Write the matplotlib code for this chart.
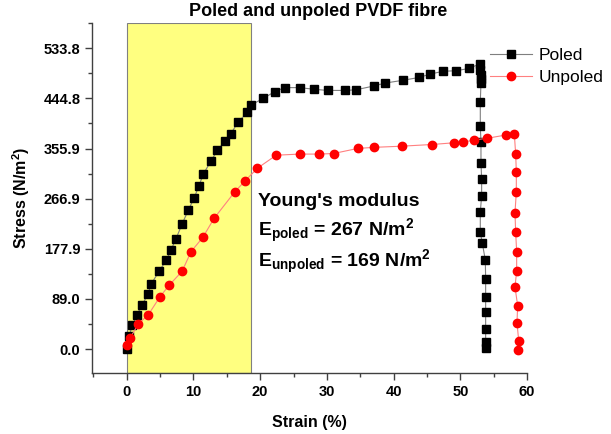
import matplotlib
matplotlib.use("Agg")
import matplotlib.pyplot as plt
from matplotlib.ticker import MultipleLocator, FixedLocator

plt.rcParams['font.family'] = ['Liberation Sans', 'DejaVu Sans']
plt.rcParams['mathtext.fontset'] = 'custom'
plt.rcParams['mathtext.rm'] = 'Liberation Sans:bold'
plt.rcParams['mathtext.bf'] = 'Liberation Sans:bold'
plt.rcParams['mathtext.it'] = 'Liberation Sans:bold'

# Poled data
poled_strain = [0.0, 0.35, 0.85, 1.55, 2.3, 3.2, 3.7, 4.85, 5.95, 6.65, 7.4, 8.3, 9.25,
                10.1, 10.8, 11.5, 12.6, 13.6, 14.7, 15.6, 16.7, 18.1, 18.6, 20.5, 22.2,
                23.7, 25.9, 28.1, 30.1, 32.7, 34.3, 37.1, 38.7, 41.4, 43.8, 45.5, 47.4,
                49.4, 51.3, 52.9, 53.0, 53.1, 53.1, 53.1, 53.0, 53.0, 53.1, 53.1, 53.2,
                53.2, 53.0, 53.0, 53.3, 53.75, 53.8, 53.8, 53.8, 53.8, 53.8, 53.8]
poled_stress = [0.0, 23, 42, 61, 78, 98, 116, 138, 158, 176, 196, 222, 247,
                268, 289, 311, 333, 353, 369, 382, 403, 420, 433, 445, 457,
                464, 464, 461, 459, 459, 460, 467, 472, 477, 482, 488, 493,
                494, 498, 506, 495, 486, 480, 472, 439, 395, 368, 331, 302,
                272, 243, 207, 188, 158, 125, 92, 66, 36, 13, 1]

# Unpoled data
unpoled_strain = [0.0, 0.55, 1.7, 3.25, 5.0, 6.35, 8.3, 9.65, 11.4, 13.1, 16.2, 17.7,
                  19.6, 22.4, 25.9, 28.8, 31.0, 34.6, 37.1, 41.2, 45.7, 49.0, 50.4,
                  52.0, 54.0, 56.9, 58.1, 58.3, 58.4, 58.4, 58.2, 58.3, 58.45, 58.45,
                  58.2, 58.6, 58.5, 58.75, 58.6]
unpoled_stress = [6.5, 20, 44, 61, 93, 113, 138, 173, 198, 232, 279, 298,
                  321, 344, 346, 346, 347, 356, 358, 360, 363, 366, 367,
                  371, 374, 380, 382, 346, 315, 279, 242, 207, 173, 139,
                  110, 77, 47, 15, -1]

ytick_labels = ['0.0', '89.0', '177.9', '266.9', '355.9', '444.8', '533.8']
ytick_values = [0.0, 88.967, 177.933, 266.9, 355.867, 444.833, 533.8]
xtick_values = [0, 10, 20, 30, 40, 50, 60]
span_range = [0, 18.6]

fig = plt.figure(figsize=(6.11, 4.34), dpi=100)
ax = fig.add_axes([92.3/611, 1-373/434, (527-92.3)/611, (373-23)/434])

ax.axvspan(span_range[0], span_range[1], facecolor='#ffff80', edgecolor='#808080',
           linewidth=0.8, zorder=0)

ax.plot(poled_strain, poled_stress, color='#7f7f7f', linewidth=0.8, marker='s',
        markersize=5.5, markerfacecolor='black', markeredgecolor='black',
        label='Poled', zorder=3)
ax.plot(unpoled_strain, unpoled_stress, color='#ff8080', linewidth=0.8, marker='o',
        markersize=6, markerfacecolor='red', markeredgecolor='red',
        label='Unpoled', zorder=3)

ax.set_xlim(-5.16, 60)
ax.set_ylim(-42.6, 578.7)

ax.xaxis.set_major_locator(FixedLocator(xtick_values))
ax.xaxis.set_minor_locator(MultipleLocator(5))
ax.yaxis.set_major_locator(FixedLocator(ytick_values))
ax.set_yticklabels(ytick_labels)
ax.yaxis.set_minor_locator(MultipleLocator(88.967/2))

for s in ['top', 'right']:
    ax.spines[s].set_visible(False)
for s in ['left', 'bottom']:
    ax.spines[s].set_color('#404040')
    ax.spines[s].set_linewidth(1.0)

ax.tick_params(axis='both', which='major', direction='out', length=5, width=1,
               color='#404040', labelsize=10.5)
ax.tick_params(axis='both', which='minor', direction='out', length=3, width=1,
               color='#404040')
for lab in ax.get_xticklabels() + ax.get_yticklabels():
    lab.set_fontweight('bold')

ax.set_xlabel('Strain (%)', fontsize=11.5, fontweight='bold', labelpad=12)
ax.set_ylabel(r'Stress (N/m$^{2}$)', fontsize=11.5, fontweight='bold', labelpad=8)

fig.text(318/611, 1-12/434, 'Poled and unpoled PVDF fibre', ha='center', va='center',
         fontsize=13, fontweight='bold')

fig.text(258/611, 1-205.7/434, "Young's modulus", fontsize=14, fontweight='bold',
         va='baseline')
fig.text(258/611, 1-236/434, r'E$_{poled}$ = 267 N/m$^{2}$', fontsize=14,
         fontweight='bold', va='baseline')
fig.text(258/611, 1-267/434, r'E$_{unpoled}$ = 169 N/m$^{2}$', fontsize=14,
         fontweight='bold', va='baseline')

fig.legend(loc='upper left', bbox_to_anchor=(490/611, 1-48/434), frameon=False,
           fontsize=12.5, handlelength=2.4, handletextpad=0.4, labelspacing=0.4,
           borderaxespad=0, borderpad=0)

fig.savefig('out.png', dpi=100)
